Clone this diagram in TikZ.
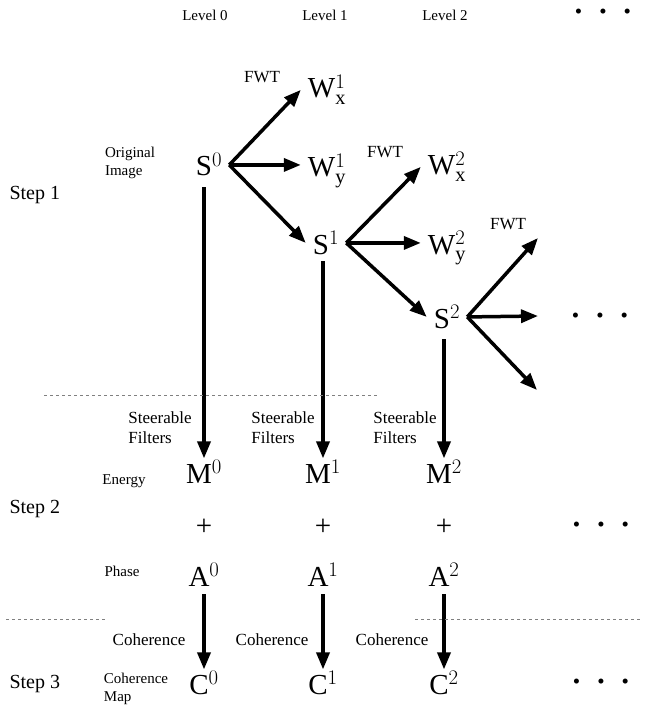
\documentclass[tikz,border=0pt]{standalone}
\usepackage{fontspec}
\setmainfont{Liberation Serif}
\usetikzlibrary{arrows.meta}

\tikzset{
	sym/.style = {font = \fontsize{29}{31}\selectfont, inner xsep = 7pt, inner ysep = 2pt, anchor = base},
	flow/.style = {line width = 3.5pt, -{Triangle[length = 17pt, width = 13pt]}},
	lbl/.style = {font = \fontsize{17}{20}\selectfont, align = left},
	tiny/.style = {font = \fontsize{15}{18}\selectfont, align = left},
	stepname/.style = {font = \fontsize{20}{22}\selectfont, anchor = west},
	ellipsis/.style = {font = \fontsize{21}{22}\selectfont},
	sep/.style = {dashed, gray, line width = 0.7pt}
}

\newcommand{\ellip}{\textbullet\hspace{17pt}\textbullet\hspace{17pt}\textbullet}

\begin{document}
\begin{tikzpicture}[x = 1pt, y = -1pt]
	%	page
	\useasboundingbox (0, 0) rectangle (650, 711);
	
	\def\cA{204}
	\def\cB{323}
	\def\cC{444}
	
	%	headings
	\node[tiny] (lev0) at (205, 15) {Level 0};
	\node[tiny] (lev1) at (325, 15) {Level 1};
	\node[tiny] (lev2) at (445, 15) {Level 2};
	\node[ellipsis] (dots0) at (603, 14) {\ellip};
	
	\node[stepname] (step1) at (6, 195) {Step 1};
	\node[stepname] (step2) at (6, 509) {Step 2};
	\node[stepname] (step3) at (6, 684) {Step 3};
	
	%	step 1: wavelet transform
	\node[sym] (s0) at (209, 176) {$\mathrm{S}^{0}$};
	\node[sym] (wx1) at (327, 98) {$\mathrm{W}_{\mathrm{x}}^{1}$};
	\node[sym] (wy1) at (327, 177) {$\mathrm{W}_{\mathrm{y}}^{1}$};
	\node[sym] (s1) at (326, 254) {$\mathrm{S}^{1}$};
	\node[sym] (wx2) at (447, 175) {$\mathrm{W}_{\mathrm{x}}^{2}$};
	\node[sym] (wy2) at (447, 254) {$\mathrm{W}_{\mathrm{y}}^{2}$};
	\node[sym] (s2) at (447, 328) {$\mathrm{S}^{2}$};
	
	\coordinate (nx) at (538, 238);
	\coordinate (ny) at (538, 316);
	\coordinate (ns) at (537, 390);
	\node[ellipsis] (dots1) at (600, 318) {\ellip};
	
	\node[tiny] (orig) at (130, 163) {Original\\Image};
	\node[lbl] (fwt0) at (262, 77) {FWT};
	\node[lbl] (fwt1) at (385, 152) {FWT};
	\node[lbl] (fwt2) at (508, 224) {FWT};
	
	\draw[flow] (s0.east) -- (wx1.west);
	\draw[flow] (s0.east) -- (s0.east -| wy1.west);
	\draw[flow] (s0.east) -- (s1.west);
	\draw[flow] (s1.east) -- (wx2.west);
	\draw[flow] (s1.east) -- (s1.east -| wy2.west);
	\draw[flow] (s1.east) -- (s2.west);
	\draw[flow] (s2.east) -- (nx);
	\draw[flow] (s2.east) -- (ny);
	\draw[flow] (s2.east) -- (ns);
	
	%	step 2: steerable filters
	\node[sym] (m0) at (\cA, 483) {$\mathrm{M}^{0}$};
	\node[sym] (m1) at (\cB, 483) {$\mathrm{M}^{1}$};
	\node[sym] (m2) at (\cC, 483) {$\mathrm{M}^{2}$};
	
	\node[sym, anchor = center] (p0) at (\cA, 527) {+};
	\node[sym, anchor = center] (p1) at (\cB, 527) {+};
	\node[sym, anchor = center] (p2) at (\cC, 527) {+};
	\node[ellipsis] (dots2) at (601, 527) {\ellip};
	
	\node[sym] (a0) at (\cA, 586) {$\mathrm{A}^{0}$};
	\node[sym] (a1) at (\cB, 586) {$\mathrm{A}^{1}$};
	\node[sym] (a2) at (\cC, 586) {$\mathrm{A}^{2}$};
	
	\node[tiny] (energy) at (124, 481) {Energy};
	\node[tiny] (phase) at (122, 571) {Phase};
	
	\node[lbl] (sf0) at (160, 428) {Steerable\\Filters};
	\node[lbl] (sf1) at (283, 428) {Steerable\\Filters};
	\node[lbl] (sf2) at (405, 428) {Steerable\\Filters};
	
	\draw[flow, shorten < = 9pt] (m0 |- s0.south) -- (m0.north);
	\draw[flow, shorten < = 5pt] (m1 |- s1.south) -- (m1.north);
	\draw[flow, shorten < = 9pt] (m2 |- s2.south) -- (m2.north);
	
	%	step 3: coherence
	\node[sym] (c0) at (\cA, 694) {$\mathrm{C}^{0}$};
	\node[sym] (c1) at (\cB, 694) {$\mathrm{C}^{1}$};
	\node[sym] (c2) at (\cC, 694) {$\mathrm{C}^{2}$};
	\node[ellipsis] (dots3) at (601, 684) {\ellip};
	
	\node[tiny] (cmap) at (136, 689) {Coherence\\Map};
	\node[lbl] (coh0) at (149, 640) {Coherence};
	\node[lbl] (coh1) at (272, 640) {Coherence};
	\node[lbl] (coh2) at (392, 640) {Coherence};
	
	\draw[flow, shorten < = 6pt] (a0.south) -- (c0.north);
	\draw[flow, shorten < = 6pt] (a1.south) -- (c1.north);
	\draw[flow, shorten < = 6pt] (a2.south) -- (c2.north);
	
	%	separators
	\draw[sep] (44, 395) -- (379, 395);
	\draw[sep] (6, 619) -- (106, 619);
	\draw[sep] (415, 619) -- (640, 619);
\end{tikzpicture}
\end{document}
